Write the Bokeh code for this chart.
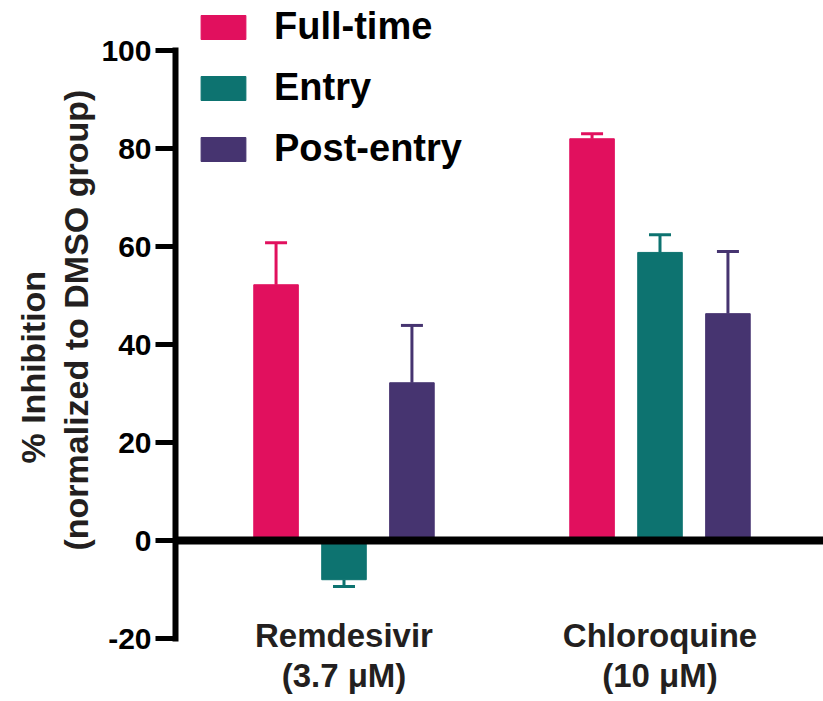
import numpy as np
from bokeh.plotting import figure
from bokeh.models import (Range1d, FixedTicker, Span, Whisker, TeeHead, ColumnDataSource,
                          Legend, LegendItem, Title)
from bokeh.embed import file_html
from bokeh.resources import INLINE

# ---- data ----
drugs = ["Remdesivir\n(3.7 μM)", "Chloroquine\n(10 μM)"]
series = ["Full-time", "Entry", "Post-entry"]
full_time = [52.2, 82.0]
full_time_err = [8.6, 1.0]
entry = [-8.0, 58.8]
entry_err = [1.4, 3.6]
post_entry = [32.2, 46.3]
post_entry_err = [11.7, 12.7]
y_ticks = [-20, 0, 20, 40, 60, 80, 100]
y_tick_labels = ["-20", "0", "20", "40", "60", "80", "100"]
y_title_1 = "% Inhibition"
y_title_2 = "(normalized to DMSO group)"

colors = ["#E1105E", "#0D7370", "#463470"]
values = [full_time, entry, post_entry]
errors = [full_time_err, entry_err, post_entry_err]

FONT = "Liberation Sans"
TXT = "#231f20"

group_x = np.arange(1, len(drugs) + 1)
dodge = 0.215
bar_w = 0.141

x_start = 0.4668
x_end = 2.5174
p = figure(width=823, height=701,
           x_range=Range1d(x_start, x_end), y_range=Range1d(-20, 109.2),
           output_backend="svg", toolbar_location=None,
           min_border_left=175, min_border_right=0, min_border_top=5, min_border_bottom=63)
p.outline_line_color = None
p.xgrid.visible = False
p.ygrid.visible = False
p.background_fill_color = "white"

renderers = []
for i, (name, vals, errs, col) in enumerate(zip(series, values, errors, colors)):
    xs = group_x + (i - 1) * dodge
    vals = np.array(vals, dtype=float)
    errs = np.array(errs, dtype=float)
    src = ColumnDataSource(dict(x=xs, top=vals))
    r = p.vbar(x="x", top="top", bottom=0, width=bar_w, source=src,
               fill_color=col, line_color=col, line_width=1)
    renderers.append(r)
    pos = vals >= 0
    if pos.any():
        s_up = ColumnDataSource(dict(x=xs[pos], lower=vals[pos], upper=(vals + errs)[pos]))
        p.add_layout(Whisker(base="x", lower="lower", upper="upper", source=s_up,
                             dimension="height", line_color=col, line_width=3,
                             upper_head=TeeHead(size=22, line_color=col, line_width=3),
                             lower_head=None))
    neg = ~pos
    if neg.any():
        s_dn = ColumnDataSource(dict(x=xs[neg], lower=(vals - errs)[neg], upper=vals[neg]))
        p.add_layout(Whisker(base="x", lower="lower", upper="upper", source=s_dn,
                             dimension="height", line_color=col, line_width=3,
                             lower_head=TeeHead(size=22, line_color=col, line_width=3),
                             upper_head=None))

# zero line
p.add_layout(Span(location=0, dimension="width", line_color="black", line_width=8, level="overlay"))

# y axis
ya = p.yaxis[0]
ya.ticker = FixedTicker(ticks=y_ticks)
ya.bounds = (min(y_ticks), max(y_ticks))
ya.major_label_overrides = {t: l for t, l in zip(y_ticks, y_tick_labels)}
ya.axis_line_width = 6
ya.axis_line_cap = "square"
ya.major_tick_line_width = 5
ya.major_tick_out = 20
ya.major_tick_in = 0
ya.minor_tick_line_color = None
ya.major_label_text_font = FONT
ya.major_label_text_font_style = "bold"
ya.major_label_text_font_size = "30px"
ya.major_label_text_color = "black"
ya.major_label_standoff = 4

# x axis (category labels)
xa = p.xaxis[0]
xa.ticker = FixedTicker(ticks=list(group_x))
xa.major_label_overrides = {int(g): d for g, d in zip(group_x, drugs)}
xa.axis_line_color = None
xa.major_tick_line_color = None
xa.minor_tick_line_color = None
xa.major_label_text_font = FONT
xa.major_label_text_font_style = "bold"
xa.major_label_text_font_size = "33px"
xa.major_label_text_line_height = 1.1
xa.major_label_text_color = TXT
xa.major_label_standoff = -28

# y titles (two lines, as left-side titles)
p.add_layout(Title(text=y_title_2, align="left", offset=88, standoff=7,
                   text_font=FONT, text_font_style="bold", text_font_size="34px",
                   text_color=TXT), "left")
p.add_layout(Title(text=y_title_1, align="left", offset=175, standoff=0,
                   text_font=FONT, text_font_style="bold", text_font_size="34px",
                   text_color=TXT), "left")

legend = Legend(items=[LegendItem(label=s, renderers=[r]) for s, r in zip(series, renderers)],
                location=(20, 468), orientation="vertical",
                glyph_width=56, glyph_height=30, label_standoff=23,
                label_text_font=FONT, label_text_font_style="bold", label_text_font_size="38px",
                label_text_color="black", spacing=18, padding=0, margin=0,
                border_line_color=None, background_fill_alpha=0)
p.add_layout(legend)

open("out.html", "w").write(file_html(p, INLINE))
